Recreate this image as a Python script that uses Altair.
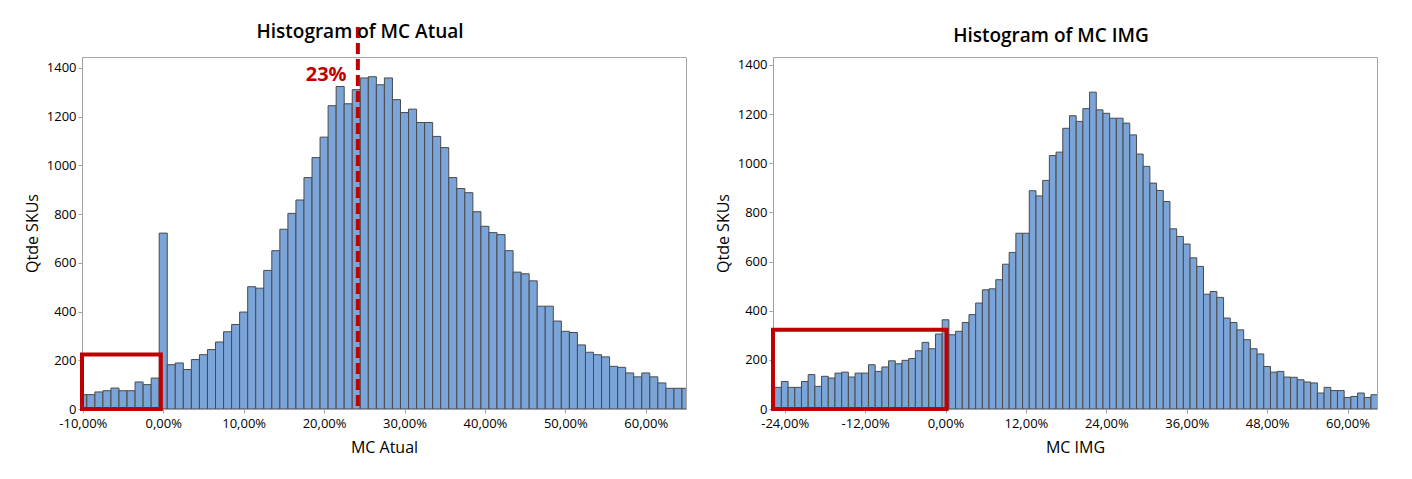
import altair as alt
import pandas as pd

# ---- data ----
atual_centers = list(range(-10, 66))
atual_counts = [59, 59, 70, 75, 86, 75, 75, 111, 100, 127,
                722, 182, 189, 162, 203, 223, 244, 275, 317, 347,
                398, 502, 496, 569, 650, 738, 803, 858, 950, 1032,
                1116, 1245, 1324, 1253, 1311, 1359, 1364, 1331, 1359, 1270,
                1217, 1231, 1176, 1176, 1119, 1073, 950, 905, 888, 810,
                750, 724, 716, 650, 562, 555, 526, 422, 422, 361,
                319, 314, 263, 233, 223, 214, 175, 171, 148, 132,
                148, 132, 107, 85, 85, 85]
atual_centers = atual_centers[:len(atual_counts)]

img_centers = list(range(-25, 65))
img_counts = [88, 112, 88, 88, 112, 140, 92, 133, 126, 146,
              150, 130, 146, 146, 180, 153, 171, 196, 184, 198,
              205, 237, 271, 245, 305, 363, 302, 316, 352, 384,
              431, 485, 489, 526, 589, 637, 715, 715, 888, 867,
              930, 1031, 1045, 1142, 1193, 1170, 1222, 1289, 1217, 1203,
              1183, 1183, 1163, 1115, 1037, 987, 919, 889, 844, 733,
              702, 671, 615, 580, 467, 478, 454, 370, 352, 322,
              282, 245, 224, 173, 150, 153, 130, 129, 119, 110,
              106, 65, 88, 75, 75, 47, 51, 65, 47, 58]
img_centers = img_centers[:len(img_counts)]

atual_ticks = [-10, 0, 10, 20, 30, 40, 50, 60]
img_ticks = [-24, -12, 0, 12, 24, 36, 48, 60]
y_ticks = [0, 200, 400, 600, 800, 1000, 1200, 1400]

atual_domain = [-10.1, 65]
img_domain = [-25.75, 64.4]

# annotations
atual_box = {"x": -10.1, "x2": -0.3, "y": 0, "y2": 224}
img_box = {"x": -25.75, "x2": 0.15, "y": 0, "y2": 322}
atual_line_x = 24.2
atual_label = {"x": 22.8, "y": 1345, "text": "23%"}

FONT = "Open Sans"
BAR_FILL = "#7ba4d8"
BAR_STROKE = "#4a4a4a"
RED = "#c00000"

label_expr = ("(datum.value < 0 ? '-' : '') + "
              "replace(format(abs(datum.value), '.2f'), '.', ',') + '%'")


def panel(centers, counts, ticks, domain, xtitle, box, ymax):
    df = pd.DataFrame({
        "lo": [c - 0.5 for c in centers],
        "hi": [c + 0.5 for c in centers],
        "count": counts,
    })
    xscale = alt.Scale(domain=domain, nice=False, zero=False)
    yscale = alt.Scale(domain=[0, ymax], nice=False)
    bars = alt.Chart(df).mark_bar(
        fill=BAR_FILL, stroke=BAR_STROKE, strokeWidth=1, clip=True
    ).encode(
        x=alt.X("lo:Q", scale=xscale, title=xtitle,
                axis=alt.Axis(values=ticks, labelExpr=label_expr,
                              labelFlush=False, labelPadding=4)),
        x2="hi:Q",
        y=alt.Y("count:Q", scale=yscale, title="Qtde SKUs",
                axis=alt.Axis(values=y_ticks, format="d", labelFlush=False)),
        y2=alt.datum(0),
    )
    bdf = pd.DataFrame([box])
    rect = alt.Chart(bdf).mark_rect(
        filled=False, stroke=RED, strokeWidth=4
    ).encode(x="x:Q", x2="x2:Q", y="y:Q", y2="y2:Q")
    return bars, rect


bars1, rect1 = panel(atual_centers, atual_counts, atual_ticks, atual_domain,
                     "MC Atual", atual_box, 1445)

rule1 = alt.Chart(pd.DataFrame({"x": [atual_line_x]})).mark_rule(
    color=RED, strokeWidth=4, strokeDash=[11, 5]
).encode(x="x:Q", y=alt.value(-30), y2=alt.value(352))

text1 = alt.Chart(pd.DataFrame([atual_label])).mark_text(
    color=RED, font=FONT, fontSize=20, fontWeight="bold",
    align="right", baseline="alphabetic"
).encode(x="x:Q", y="y:Q", text="text:N")

left = alt.layer(bars1, rect1, rule1, text1).properties(
    width=604, height=352,
    title=alt.TitleParams("Histogram of MC Atual", dx=-24, offset=-17),
)

bars2, rect2 = panel(img_centers, img_counts, img_ticks, img_domain,
                     "MC IMG", img_box, 1432)

right = alt.layer(bars2, rect2).properties(
    width=604, height=352,
    title=alt.TitleParams("Histogram of MC IMG", dx=-24, offset=11),
)

chart = alt.hconcat(left, right, spacing=27).properties(
    padding={"left": 15, "top": 14, "right": 5, "bottom": 5}
).configure_view(
    stroke="#a6a6a6", strokeWidth=1
).configure_axis(
    domainColor="#a0a0a0", tickColor="#a0a0a0", tickSize=4,
    grid=False, labelFont=FONT, labelFontSize=13, labelColor="#000000",
    titleFont=FONT, titleFontSize=16, titleFontWeight="normal",
    titleColor="#000000", labelPadding=2,
).configure_axisY(
    titlePadding=6,
).configure_axisX(
    titlePadding=9,
).configure_title(
    font=FONT, fontSize=19, fontWeight=600, color="#000000",
    anchor="middle",
)

chart.save("out.html", embed_options={"renderer": "svg", "actions": False})
